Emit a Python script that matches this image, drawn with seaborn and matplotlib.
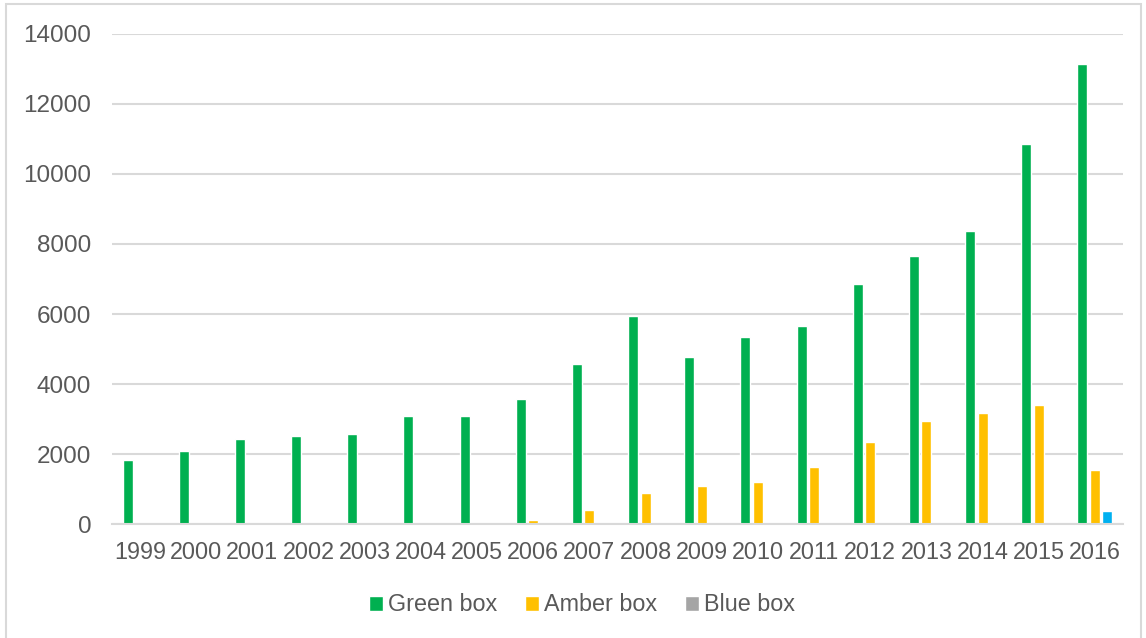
import pandas as pd
import matplotlib.pyplot as plt
import seaborn as sns
from matplotlib.patches import Rectangle

years = [str(y) for y in range(1999, 2017)]
green_box = [1840, 2080, 2420, 2520, 2570, 3080, 3100, 3570, 4580, 5940,
             4780, 5340, 5660, 6870, 7660, 8360, 10840, 13140]
amber_box = [0, 0, 0, 0, 0, 0, 0, 135, 400, 890,
             1080, 1220, 1640, 2340, 2940, 3180, 3400, 1540]
blue_box = [0, 0, 0, 0, 0, 0, 0, 0, 0, 0,
            0, 0, 0, 0, 0, 0, 0, 370]
series = ['Green box', 'Amber box', 'Blue box']

df = pd.DataFrame({'Year': years, 'Green box': green_box,
                   'Amber box': amber_box, 'Blue box': blue_box})
df = df.melt(id_vars='Year', var_name='Box', value_name='Value')

sns.set_style('white')
plt.rcParams['font.family'] = ['Liberation Sans', 'DejaVu Sans']

fig = plt.figure(figsize=(11.46, 6.38), dpi=100)
ax = fig.add_axes([112 / 1146, 1 - 524.3 / 638, (1123 - 112) / 1146, (524.3 - 33.7) / 638])

palette = {'Green box': '#00B050', 'Amber box': '#FFC000', 'Blue box': '#A5A5A5'}
sns.barplot(data=df, x='Year', y='Value', hue='Box', hue_order=series,
            order=years, palette=palette, width=0.67, gap=0.2,
            saturation=1, ax=ax)

# the one blue bar is coloured blue in the original, legend stays grey
for bar in ax.containers[2]:
    bar.set_facecolor('#00B0F0')

ax.set_ylim(0, 14000)
ax.set_yticks(range(0, 14001, 2000))
ax.set_xlim(-0.5, len(years) - 0.5)
ax.yaxis.grid(True, color='#D9D9D9', linewidth=1.5)
ax.set_axisbelow(True)
for s in ['top', 'right', 'left']:
    ax.spines[s].set_visible(False)
ax.spines['bottom'].set_color('#D9D9D9')
ax.spines['bottom'].set_linewidth(1.5)
ax.set_xlabel('')
ax.set_ylabel('')
ax.tick_params(axis='y', length=0, pad=15, labelsize=17.5, labelcolor='#595959')
ax.tick_params(axis='x', length=0, pad=12, labelsize=16.8, labelcolor='#595959')

ax.legend_.remove()
handles, labels = ax.get_legend_handles_labels()
fig.legend(handles, labels, loc='center', bbox_to_anchor=(0.508, 0.052), ncol=3,
           frameon=False, fontsize=16.8, labelcolor='#595959',
           handlelength=0.6, handleheight=0.6, handletextpad=0.2,
           columnspacing=1.2)

fig.patches.append(Rectangle((6 / 1146, -0.05), 1135 / 1146, 1.05 - 4 / 638,
                             transform=fig.transFigure, fill=False,
                             edgecolor='#D9D9D9', linewidth=1.5))

fig.savefig('out.png', dpi=100)
